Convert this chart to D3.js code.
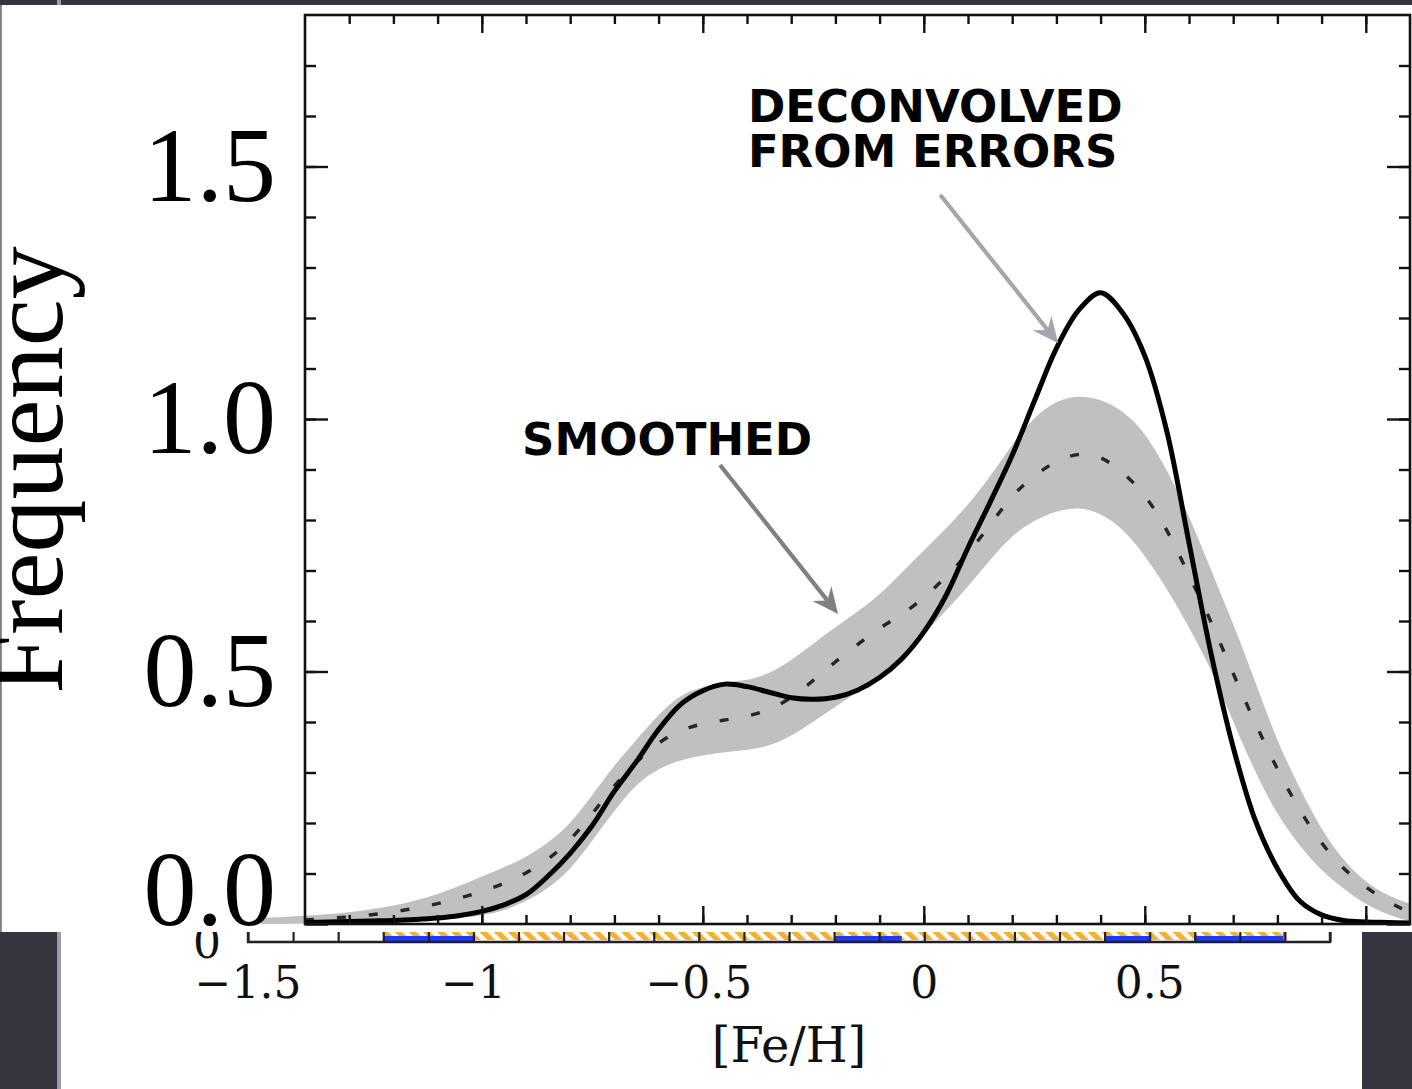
<!DOCTYPE html>
<html><head><meta charset="utf-8">
<script src="https://cdn.jsdelivr.net/npm/d3@7"></script>
<style>html,body{margin:0;padding:0;background:#35343f;overflow:hidden}</style>
</head><body>
<svg id="c" width="1412" height="1089"></svg>
<script>
// ---------- data ----------
const feh = [-1.5,-1.45,-1.4,-1.35,-1.3,-1.25,-1.2,-1.15,-1.1,-1.05,-1.0,-0.95,-0.9,-0.85,-0.8,-0.75,-0.7,-0.65,-0.6,-0.55,-0.5,-0.45,-0.4,-0.35,-0.3,-0.25,-0.2,-0.15,-0.1,-0.05,0,0.05,0.1,0.15,0.2,0.25,0.3,0.35,0.4,0.45,0.5,0.55,0.6,0.65,0.7,0.75,0.8,0.85,0.9,0.95,1.0,1.05,1.1];
const deconvolved = [null,null,0.003,0.004,0.005,0.006,0.007,0.009,0.012,0.017,0.025,0.038,0.058,0.095,0.14,0.195,0.263,0.322,0.385,0.435,0.462,0.475,0.470,0.459,0.448,0.445,0.449,0.463,0.488,0.525,0.578,0.650,0.745,0.835,0.928,1.035,1.14,1.215,1.25,1.21,1.125,0.975,0.755,0.535,0.350,0.205,0.110,0.046,0.018,0.007,0.004,0.003,0.002];
const smoothed = [null,null,0.008,0.011,0.014,0.018,0.024,0.031,0.040,0.051,0.064,0.080,0.100,0.127,0.165,0.218,0.275,0.322,0.36,0.385,0.397,0.404,0.411,0.423,0.447,0.482,0.52,0.553,0.587,0.612,0.645,0.687,0.733,0.79,0.85,0.888,0.918,0.933,0.928,0.895,0.852,0.783,0.69,0.600,0.495,0.397,0.305,0.225,0.158,0.108,0.072,0.044,0.022];
const bandHigh = [0.012,0.014,0.016,0.019,0.023,0.029,0.036,0.046,0.059,0.075,0.094,0.112,0.132,0.16,0.198,0.255,0.315,0.365,0.415,0.455,0.470,0.479,0.482,0.495,0.522,0.555,0.588,0.618,0.652,0.695,0.74,0.782,0.83,0.885,0.95,1.005,1.037,1.047,1.04,1.017,0.975,0.9,0.81,0.70,0.595,0.48,0.36,0.27,0.185,0.125,0.082,0.056,0.04];
const bandLow = [0.0,0.0,0.001,0.002,0.003,0.004,0.006,0.008,0.010,0.012,0.016,0.026,0.045,0.07,0.107,0.165,0.225,0.278,0.308,0.325,0.334,0.341,0.344,0.352,0.372,0.40,0.43,0.46,0.49,0.532,0.575,0.62,0.668,0.722,0.77,0.80,0.818,0.826,0.814,0.784,0.73,0.665,0.588,0.505,0.40,0.30,0.215,0.155,0.105,0.07,0.038,0.018,0.005];

const yTickValues = [0, 0.5, 1.0, 1.5];
const yTickLabels = ["0.0", "0.5", "1.0", "1.5"];
const yTitle = "Frequency";

// underlying (partly hidden) chart strip
const lowerTickValues = [-1.5, -1, -0.5, 0, 0.5];
const lowerTickLabels = ["\u22121.5", "\u22121", "\u22120.5", "0", "0.5"];
const lowerTitle = "[Fe/H]";
const lowerHatch = [-1.2, 0.8];
const lowerBlue = [[-1.2, -1.0], [-0.2, -0.05], [0.4, 0.5], [0.6, 0.8]];

// annotations: [text lines], text anchor and arrow from/to in data units
const annotations = [
  {lines: ["DECONVOLVED", "FROM ERRORS"], at: [-0.398, 1.588], from: [0.037, 1.444], to: [0.304, 1.150], color: "#a5a5ad"},
  {lines: ["SMOOTHED"], at: [-0.909, 0.929], from: [-0.461, 0.909], to: [-0.194, 0.614], color: "#808080"}
];

// ---------- drawing ----------
const svg = d3.select("#c");
const W = 1412, H = 1089;

// slide background
svg.append("rect").attr("width", W).attr("height", H).attr("fill", "#35343f");
svg.append("rect").attr("x", 57).attr("y", 0).attr("width", 4).attr("height", H).attr("fill", "#9d9da4");

// underlying picture
svg.append("rect").attr("x", 61).attr("y", 5).attr("width", 1301).attr("height", H - 5).attr("fill", "#ffffff");

const xl = d3.scaleLinear().domain([-1.5, 0.9]).range([248, 1330]);
const lowerAxisY = 942;

const defs = svg.append("defs");
const pat = defs.append("pattern").attr("id", "hatch").attr("patternUnits", "userSpaceOnUse")
  .attr("width", 10).attr("height", 10).attr("patternTransform", "rotate(-45)");
pat.append("rect").attr("width", 10).attr("height", 10).attr("fill", "#ffffff");
pat.append("rect").attr("width", 5.5).attr("height", 10).attr("fill", "#f2b035");

const lower = svg.append("g");
lower.append("rect").attr("x", xl(lowerHatch[0])).attr("y", 928)
  .attr("width", xl(lowerHatch[1]) - xl(lowerHatch[0])).attr("height", 12).attr("fill", "url(#hatch)");
lower.selectAll("rect.blue").data(lowerBlue).join("rect").attr("class", "blue")
  .attr("x", d => xl(d[0])).attr("y", 936).attr("width", d => xl(d[1]) - xl(d[0])).attr("height", 5)
  .attr("fill", "#1f3cf5");
lower.append("rect").attr("x", xl(lowerHatch[1]) - 2).attr("y", 930).attr("width", 2.5).attr("height", 10).attr("fill", "#ff3b30");

const lowerAxis = d3.axisBottom(xl).tickValues(d3.range(-15, 10).map(v => v / 10)).tickSize(-14).tickSizeOuter(0).tickFormat("");
const la = lower.append("g").attr("transform", `translate(0,${lowerAxisY})`).call(lowerAxis);
la.select(".domain").remove();
la.selectAll("line").attr("stroke", "#222").attr("stroke-width", 2.2);
lower.append("path").attr("d", `M${xl(-1.5)},920V${lowerAxisY}H${xl(0.9)}V920`)
  .attr("fill", "none").attr("stroke", "#222").attr("stroke-width", 2.4);
lower.selectAll("text.lt").data(lowerTickValues).join("text").attr("class", "lt")
  .attr("x", d => xl(d)).attr("y", 998).attr("text-anchor", "middle")
  .attr("font-family", "DejaVu Serif").attr("font-size", 44).attr("fill", "#111")
  .text((d, i) => lowerTickLabels[i]);
lower.append("text").attr("x", 207).attr("y", 958).attr("text-anchor", "middle")
  .attr("font-family", "DejaVu Serif").attr("font-size", 44).attr("fill", "#111").text("0");
lower.append("text").attr("x", xl(-0.3)).attr("y", 1062).attr("text-anchor", "middle")
  .attr("font-family", "DejaVu Serif").attr("font-size", 48).attr("fill", "#111").text(lowerTitle);

// overlay picture (main chart)
svg.append("rect").attr("x", 0).attr("y", 5).attr("width", W).attr("height", 927).attr("fill", "#ffffff");
svg.append("rect").attr("x", 0).attr("y", 5).attr("width", 1.8).attr("height", 927).attr("fill", "#7c7c82");

const x = d3.scaleLinear().domain([-1.4, 1.1]).range([305, 1410]);
const y = d3.scaleLinear().domain([0, 1.8]).range([924, 15]);
const data = feh.map((f, i) => ({f, d: deconvolved[i], s: smoothed[i], hi: bandHigh[i], lo: bandLow[i]}));

defs.append("clipPath").attr("id", "plot").append("rect")
  .attr("x", x(-1.4)).attr("y", y(1.8)).attr("width", x(1.1) - x(-1.4)).attr("height", y(0) - y(1.8));
defs.append("clipPath").attr("id", "panel").append("rect")
  .attr("x", 0).attr("y", 5).attr("width", W).attr("height", 927);

svg.append("path").attr("clip-path", "url(#panel)")
  .attr("d", d3.area().x(d => x(d.f)).y0(d => y(d.lo)).y1(d => y(d.hi)).curve(d3.curveBasis)(data))
  .attr("fill", "#c0c0c0");

const plot = svg.append("g").attr("clip-path", "url(#plot)");
plot.append("path")
  .attr("d", d3.line().defined(d => d.s != null).x(d => x(d.f)).y(d => y(d.s)).curve(d3.curveBasis)(data))
  .attr("fill", "none").attr("stroke", "#262626").attr("stroke-width", 3.4).attr("stroke-dasharray", "9,23");
plot.append("path")
  .attr("d", d3.line().defined(d => d.d != null).x(d => x(d.f)).y(d => y(d.d)).curve(d3.curveCatmullRom.alpha(0.5))(data))
  .attr("fill", "none").attr("stroke", "#000").attr("stroke-width", 5).attr("stroke-linejoin", "round");

// frame + ticks (inward)
const xMinor = d3.range(-13, 11).map(v => v / 10);
const xMajor = [-1, -0.5, 0, 0.5, 1.0];
const yMinor = d3.range(1, 18).map(v => v / 10);
function addAxis(gen, tx, ty) {
  const g = svg.append("g").attr("transform", `translate(${tx},${ty})`).call(gen);
  g.select(".domain").remove();
  g.selectAll("line").attr("stroke", "#111").attr("stroke-width", 2.4);
  g.selectAll("text").remove();
  return g;
}
addAxis(d3.axisTop(x).tickValues(xMinor).tickSize(-9).tickFormat(""), 0, y(1.8));
addAxis(d3.axisTop(x).tickValues(xMajor).tickSize(-18).tickFormat(""), 0, y(1.8));
addAxis(d3.axisBottom(x).tickValues(xMinor).tickSize(-9).tickFormat(""), 0, y(0));
addAxis(d3.axisBottom(x).tickValues(xMajor).tickSize(-18).tickFormat(""), 0, y(0));
addAxis(d3.axisLeft(y).tickValues(yMinor).tickSize(-11).tickFormat(""), x(-1.4), 0);
addAxis(d3.axisLeft(y).tickValues(yTickValues).tickSize(-23).tickFormat(""), x(-1.4), 0);
addAxis(d3.axisRight(y).tickValues(yMinor).tickSize(-11).tickFormat(""), x(1.1), 0);
addAxis(d3.axisRight(y).tickValues(yTickValues).tickSize(-23).tickFormat(""), x(1.1), 0);
svg.append("rect").attr("x", x(-1.4)).attr("y", y(1.8)).attr("width", x(1.1) - x(-1.4)).attr("height", y(0) - y(1.8))
  .attr("fill", "none").attr("stroke", "#111").attr("stroke-width", 2.6);

// y tick labels
svg.selectAll("text.yl").data(yTickValues).join("text").attr("class", "yl")
  .attr("x", 276).attr("y", d => y(d) + (d === 0 ? 1 : 34)).attr("text-anchor", "end")
  .attr("font-family", "Liberation Serif").attr("font-size", 106).attr("fill", "#000")
  .text((d, i) => yTickLabels[i]);
svg.append("text").attr("transform", "translate(62,470) rotate(-90)").attr("text-anchor", "middle")
  .attr("font-family", "Liberation Serif").attr("font-size", 106).attr("fill", "#000").text(yTitle);

// annotations
annotations.forEach(a => {
  const t = svg.append("text").attr("font-family", "DejaVu Sans").attr("font-weight", "bold")
    .attr("font-size", 45).attr("fill", "#000");
  a.lines.forEach((ln, i) => t.append("tspan").attr("x", x(a.at[0])).attr("y", y(a.at[1]) + i * 45).text(ln));
  const x0 = x(a.from[0]), y0 = y(a.from[1]), x1 = x(a.to[0]), y1 = y(a.to[1]);
  const len = Math.hypot(x1 - x0, y1 - y0), ux = (x1 - x0) / len, uy = (y1 - y0) / len, nx = -uy, ny = ux;
  const L = 26, Wd = 12, N = 9;
  svg.append("line").attr("x1", x0).attr("y1", y0).attr("x2", x1 - ux * (L - N)).attr("y2", y1 - uy * (L - N))
    .attr("stroke", a.color).attr("stroke-width", 4.2);
  const p = [[x1, y1], [x1 - ux * L + nx * Wd, y1 - uy * L + ny * Wd], [x1 - ux * (L - N), y1 - uy * (L - N)], [x1 - ux * L - nx * Wd, y1 - uy * L - ny * Wd]];
  svg.append("path").attr("d", "M" + p.map(q => q.join(",")).join("L") + "Z").attr("fill", a.color);
});
</script>
</body></html>
